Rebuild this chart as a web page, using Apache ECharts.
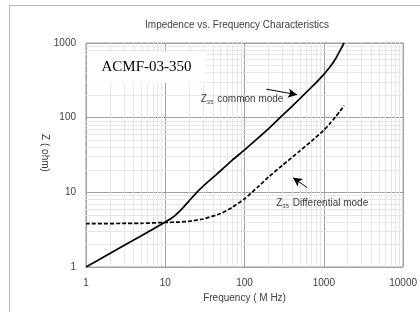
<!DOCTYPE html>
<html>
<head>
<meta charset="utf-8">
<script src="https://cdn.jsdelivr.net/npm/echarts@6/dist/echarts.min.js"></script>
<style>
  html, body { margin:0; padding:0; background:#fff; }
  #chart { width:420px; height:312px; }
</style>
</head>
<body>
<div id="chart"></div>
<script>
// ====== data ======
const freqCommon = [1, 2, 5, 10, 13, 16, 20, 25, 35, 50, 70, 100, 150, 200, 280, 400, 600, 800, 1000, 1200, 1400, 1600, 1800];
const zCommon    = [1, 1.52, 2.62, 4.0, 4.8, 5.9, 7.7, 10, 14, 19.5, 27, 37, 54, 71, 100, 143, 218, 295, 380, 480, 610, 790, 1000];

const freqDiff = [1, 5, 10, 15, 20, 30, 50, 70, 100, 150, 200, 300, 500, 700, 1000, 1200, 1400, 1600, 1800];
const zDiff    = [3.8, 3.85, 3.95, 4.0, 4.1, 4.4, 5.2, 6.3, 8.2, 12, 16, 23, 36, 48.5, 68, 84, 102, 122, 145];

const xTicks = [1, 10, 100, 1000, 10000];
const yTicks = [1, 10, 100, 1000];

// minor grid positions (2..9 of each decade)
const minorX = [], minorY = [];
xTicks.slice(0, -1).forEach(d => { for (let k = 2; k <= 9; k++) minorX.push(d * k); });
yTicks.slice(0, -1).forEach(d => { for (let k = 2; k <= 9; k++) minorY.push(d * k); });

// annotation anchors (data coords)
const commonArrow = [[188, 241], [460, 203]];
const diffArrow   = [[613, 11.6], [410, 15.7]];
const commonLabel = [28, 177];
const diffLabel   = [251, 7.07];
const partLabel   = [5.8, 474];

const FONT = '"Liberation Sans", Arial, sans-serif';
const TXT = '#404040';

const chart = echarts.init(document.getElementById('chart'));

const zRich = {
  z:   { fontFamily: FONT, fontSize: 10, color: TXT },
  sub: { fontFamily: FONT, fontSize: 6, color: TXT, verticalAlign: 'bottom', padding: [6, 1, 0, 0] },
  t:   { fontFamily: FONT, fontSize: 10, color: TXT }
};

const plainLabel = v => String(v);

chart.setOption({
  animation: false,
  title: {
    text: 'Impedence vs. Frequency Characteristics',
    left: 232, top: 15, textAlign: 'center',
    textStyle: { fontFamily: FONT, fontSize: 10, fontWeight: 'normal', color: TXT }
  },
  graphic: [{
    type: 'rect', silent: true, z: -10,
    shape: { x: 9.5, y: 5.5, width: 430, height: 330 },
    style: { fill: 'none', stroke: '#b8b8b8', lineWidth: 1 }
  }, {
    // y axis title, reads top to bottom
    type: 'text', silent: true,
    x: 45, y: 153, rotation: -Math.PI / 2,
    style: { text: 'Z ( ohm)', fontFamily: FONT, fontSize: 10, fill: TXT, align: 'center', verticalAlign: 'middle' }
  }],
  grid: { left: 86, right: 14, top: 43, bottom: 45, show: true, borderColor: '#9a9a9a', borderWidth: 1 },
  xAxis: {
    type: 'log', logBase: 10, min: 1, max: 10000,
    name: 'Frequency ( M Hz)', nameLocation: 'middle', nameGap: 22,
    nameTextStyle: { fontFamily: FONT, fontSize: 10, color: TXT, verticalAlign: 'top' },
    axisLine: { show: false },
    axisTick: { show: false },
    axisLabel: { fontFamily: FONT, fontSize: 10, color: TXT, margin: 11, formatter: plainLabel },
    splitLine: { show: true, lineStyle: { color: '#a0a0a0', width: 1 } }
  },
  yAxis: {
    type: 'log', logBase: 10, min: 1, max: 1000,
    axisLine: { show: false },
    axisTick: { show: false },
    axisLabel: { fontFamily: FONT, fontSize: 10, color: TXT, margin: 10, formatter: plainLabel },
    splitLine: { show: true, lineStyle: { color: '#a0a0a0', width: 1 } }
  },
  series: [
    {
      name: 'grid', type: 'line', data: [], z: 0, silent: true,
      markLine: {
        z: 0, silent: true, symbol: ['none', 'none'], animation: false,
        label: { show: false },
        lineStyle: { color: '#e6e6e6', width: 1, type: 'solid' },
        data: minorX.map(v => ({ xAxis: v })).concat(minorY.map(v => ({ yAxis: v })))
      }
    },
    {
      name: 'common', type: 'line', z: 5,
      data: freqCommon.map((f, i) => [f, zCommon[i]]),
      showSymbol: false, smooth: 0.2,
      lineStyle: { color: '#000', width: 1.7 },
      markLine: {
        z: 6, silent: true, symbol: ['none', 'arrow'], symbolSize: [7, 9],
        label: { show: false },
        lineStyle: { color: '#000', width: 1, type: 'solid' },
        data: [[{ coord: commonArrow[0] }, { coord: commonArrow[1] }]]
      },
      markPoint: {
        z: 6, silent: true, symbolSize: 0,
        data: [
          { coord: commonLabel, label: { show: true, position: 'right', distance: 0,
            formatter: '{z|Z}{sub|35}{t| common mode}', rich: zRich } },
          { coord: partLabel, label: { show: true, position: 'inside',
            formatter: 'ACMF-03-350',
            fontFamily: '"Liberation Serif", "Times New Roman", serif', fontSize: 15, color: '#000',
            backgroundColor: '#fff', padding: [8, 14, 8, 14] } }
        ]
      }
    },
    {
      name: 'differential', type: 'line', z: 5,
      data: freqDiff.map((f, i) => [f, zDiff[i]]),
      showSymbol: false, smooth: 0.2,
      lineStyle: { color: '#000', width: 1.7, type: [4, 2] },
      markLine: {
        z: 6, silent: true, symbol: ['none', 'arrow'], symbolSize: [7, 9],
        label: { show: false },
        lineStyle: { color: '#000', width: 1, type: 'solid' },
        data: [[{ coord: diffArrow[0] }, { coord: diffArrow[1] }]]
      },
      markPoint: {
        z: 6, silent: true, symbolSize: 0,
        data: [
          { coord: diffLabel, label: { show: true, position: 'right', distance: 0,
            formatter: '{z|Z}{sub|35}{t| Differential mode}', rich: zRich } }
        ]
      }
    }
  ]
});
</script>
</body>
</html>
